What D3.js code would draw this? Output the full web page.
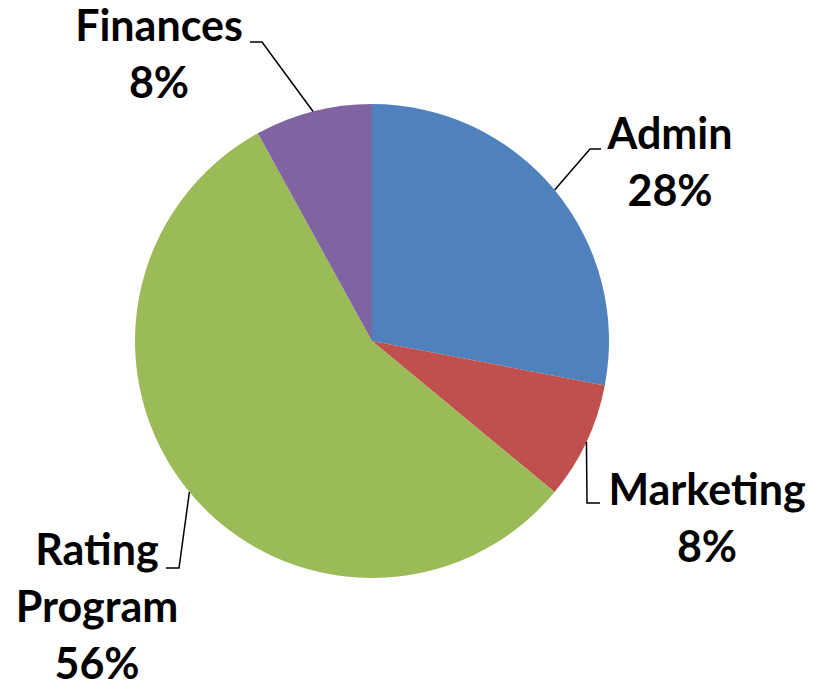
<!DOCTYPE html>
<html>
<head>
<meta charset="utf-8">
<script src="https://cdn.jsdelivr.net/npm/d3@7"></script>
<style>
  body { margin: 0; background: #fff; }
  svg text { font-family: Lato, "Open Sans", sans-serif; font-weight: bold; font-size: 43px; fill: #000; }
</style>
</head>
<body>
<div id="chart"></div>
<script>
const categories = ["Admin", "Marketing", "Rating Program", "Finances"];
const values = [28, 8, 56, 8];
const colors = ["#4F81BD", "#C0504D", "#9BBB59", "#8064A2"];

const width = 813, height = 689;
const cx = 372, cy = 341, radius = 237;

// label layout: text centre, first baseline, elbow point for leader
const labelLayout = [
  { x: 670, y: 149, lines: ["Admin"], elbow: [590, 149], end: [601, 149] },
  { x: 707, y: 505, lines: ["Marketing"], elbow: [587, 503], end: [600, 503] },
  { x: 97, y: 565, lines: ["Rating", "Program"], elbow: [179, 568], end: [166, 568] },
  { x: 159, y: 41, lines: ["Finances"], elbow: [262, 42], end: [250, 42] }
];

const svg = d3.select("#chart")
  .append("svg")
  .attr("width", width)
  .attr("height", height);

const pie = d3.pie().sort(null).value(d => d);
const arcs = pie(values);
const arc = d3.arc().innerRadius(0).outerRadius(radius);

const g = svg.append("g").attr("transform", `translate(${cx},${cy})`);

g.selectAll("path")
  .data(arcs)
  .enter()
  .append("path")
  .attr("d", arc)
  .attr("fill", (d, i) => colors[i]);

const total = d3.sum(values);

// leader lines from slice mid-angle on the rim
svg.selectAll("polyline")
  .data(arcs)
  .enter()
  .append("polyline")
  .attr("fill", "none")
  .attr("stroke", "#000")
  .attr("stroke-width", 1.5)
  .attr("points", (d, i) => {
    const a = (d.startAngle + d.endAngle) / 2;
    const px = cx + radius * Math.sin(a);
    const py = cy - radius * Math.cos(a);
    const L = labelLayout[i];
    return [[px, py], L.elbow, L.end].map(p => p.join(",")).join(" ");
  });

const labels = svg.selectAll("text.label")
  .data(arcs)
  .enter()
  .append("text")
  .attr("class", "label")
  .attr("text-anchor", "middle")
  .attr("x", (d, i) => labelLayout[i].x)
  .attr("y", (d, i) => labelLayout[i].y);

labels.each(function(d, i) {
  const t = d3.select(this);
  const lines = labelLayout[i].lines.concat([Math.round(d.data / total * 100) + "%"]);
  lines.forEach((s, j) => {
    t.append("tspan")
      .attr("x", labelLayout[i].x)
      .attr("dy", j === 0 ? 0 : 57)
      .text(s);
  });
});
</script>
</body>
</html>
